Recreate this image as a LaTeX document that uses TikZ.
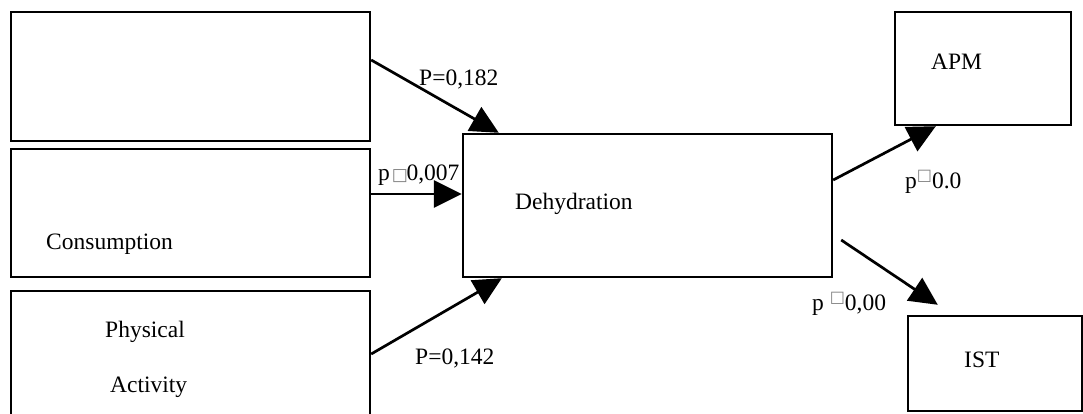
\documentclass[tikz,border=0pt]{standalone}
\usepackage{fontspec}
\setmainfont{Liberation Serif}
\newfontfamily\symfont{DejaVu Sans}
\usetikzlibrary{arrows.meta}
\tikzset{
  box/.style={draw, line width=2.4pt, inner sep=0pt},
  lbl/.style={anchor=base west, inner sep=0pt, font=\fontsize{23.5}{28}\selectfont},
  path/.style={line width=2.7pt, -{Triangle[length=28pt,width=27pt]}},
}
\newcommand{\sq}{{\symfont\fontsize{17}{17}\selectfont\textcolor{gray}{□}}}
\newcommand{\sqsup}{\raisebox{8pt}{{\symfont\fontsize{16}{16}\selectfont\textcolor{gray}{□}}}}
\begin{document}
\begin{tikzpicture}[x=1pt,y=-1pt]
\useasboundingbox (0,0) rectangle (1083,414);
% boxes
\node[box, minimum width=359pt, minimum height=129pt] (top) at (190.5,76.5) {};
\node[box, minimum width=359pt, minimum height=128pt] (mid) at (190.5,213) {};
\node[box, minimum width=359pt, minimum height=146pt] (bot) at (190.5,364) {};
\node[box, minimum width=369pt, minimum height=143pt] (dehyd) at (647.5,205.5) {};
\node[box, minimum width=176pt, minimum height=113pt] (apm) at (983,68.5) {};
\node[box, minimum width=174pt, minimum height=95pt] (ist) at (995,363.5) {};
% box texts
\node[lbl] (tdehyd) at (515,209) {Dehydration};
\node[lbl] (tcons) at (46,249) {Consumption};
\node[lbl] (tphys) at (105,337) {Physical};
\node[lbl] (tact) at (110,392) {Activity};
\node[lbl] (tapm) at (931,70) {APM};
\node[lbl] (tist) at (964,367) {IST};
% connectors
\draw[path] ([yshift=16.5pt]top.east) -- ([xshift=37pt]dehyd.north west);
\draw[path] ([yshift=19pt]mid.east) -- ([yshift=19pt]mid.east -| dehyd.west);
\draw[path] ([yshift=10pt]bot.east) -- ([xshift=40pt]dehyd.south west);
\draw[path] ([yshift=25.5pt]dehyd.east) -- ([xshift=42pt]apm.south west);
\coordinate (istend) at ([xshift=31pt,yshift=10pt]ist.north west);
\draw[path] ([xshift=8pt,yshift=-34.5pt]dehyd.east) -- (istend);
% connector labels
\node[lbl] (l1) at (419,86) {P=0,182};
\node[lbl] (l2) at (378,180) {p\kern2pt\sq\kern-1.5pt0,007};
\node[lbl] (l3) at (415,364) {P=0,142};
\node[lbl] (l4) at (905,188) {p\sqsup0.0};
\node[lbl] (l5) at (812,310) {p \sqsup0,00};
\end{tikzpicture}
\end{document}
